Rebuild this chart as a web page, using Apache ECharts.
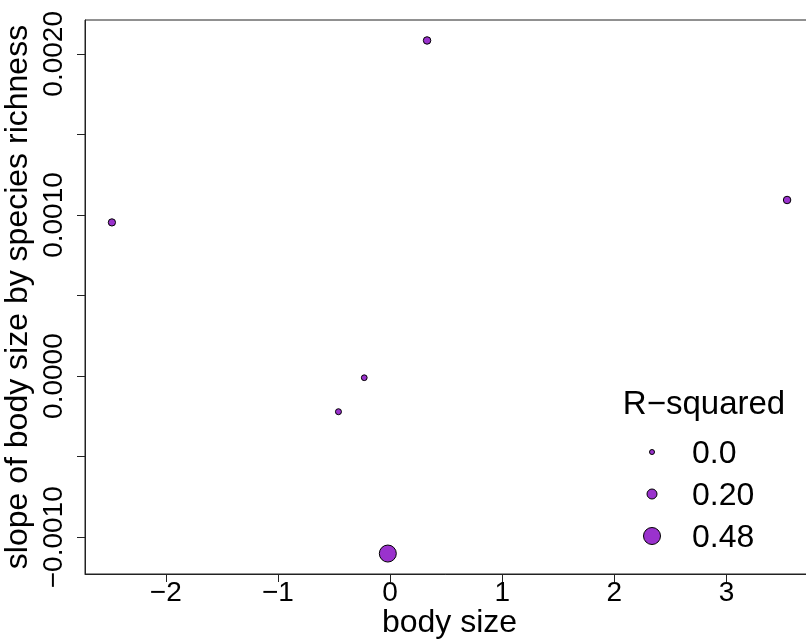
<!DOCTYPE html>
<html>
<head>
<meta charset="utf-8">
<script src="https://cdn.jsdelivr.net/npm/echarts@6/dist/echarts.min.js"></script>
<style>
  html, body { margin: 0; padding: 0; background: #fff; }
  #chart { width: 806px; height: 641px; }
</style>
</head>
<body>
<div id="chart"></div>
<script>
// Body size vs. slope of body size by species richness; point area scales with R-squared
const bodySize = [-2.48, 0.33, 3.54, -0.23, -0.46, -0.02];
const slope = [0.000954, 0.002083, 0.001093, -0.00001, -0.000221, -0.001101];
const rSquared = [0.09, 0.10, 0.10, 0.03, 0.04, 0.48];

const xTicks = [-2, -1, 0, 1, 2, 3];
const yTicks = [-0.001, -0.0005, 0, 0.0005, 0.001, 0.0015, 0.002];
const yLabels = [-0.001, 0, 0.001, 0.002];

const legendValues = [0.0, 0.20, 0.48];
const legendLabels = ['0.0', '0.20', '0.48'];

const FONT = '"Liberation Sans", Arial, Helvetica, sans-serif';
const FILL = '#9A32CD';
const INK = '#222';

function pointSize(r) { return 5 + 25 * r; }
function minusFmt(s) { return s.replace('-', '\u2212'); }

const chart = echarts.init(document.getElementById('chart'), null, { renderer: 'canvas' });

const legendX = 652;
const legendRowsY = [452, 494, 536];

const graphics = [
  {
    type: 'text', x: 704, y: 405,
    style: { text: 'R\u2212squared', fill: '#000', font: '33px ' + FONT, textAlign: 'center', textVerticalAlign: 'middle' }
  }
];
legendValues.forEach(function (v, i) {
  graphics.push({
    type: 'circle',
    shape: { cx: legendX, cy: legendRowsY[i], r: pointSize(v) / 2 },
    style: { fill: FILL, stroke: '#000', lineWidth: 1 }
  });
  graphics.push({
    type: 'text', x: 692, y: legendRowsY[i] + 2,
    style: { text: legendLabels[i], fill: '#000', font: '32px ' + FONT, textVerticalAlign: 'middle' }
  });
});

chart.setOption({
  animation: false,
  backgroundColor: '#fff',
  grid: {
    left: 85, top: 20, right: -8, bottom: 67,
    outerBoundsMode: 'none', containLabel: false,
    show: true, borderColor: INK, borderWidth: 1
  },
  xAxis: {
    type: 'value', min: -2.72, max: 3.78,
    splitLine: { show: false },
    axisLine: { onZero: false, lineStyle: { color: INK, width: 1 } },
    axisTick: { customValues: xTicks, length: 8, lineStyle: { color: INK } },
    axisLabel: {
      customValues: xTicks, color: '#000', fontSize: 28, fontFamily: FONT, margin: 5,
      formatter: function (v) { return minusFmt(String(v)); }
    },
    name: 'body size', nameLocation: 'middle', nameGap: 33, nameMoveOverlap: false,
    nameTextStyle: { color: '#000', fontSize: 32, fontFamily: FONT }
  },
  yAxis: {
    type: 'value', min: -0.001228, max: 0.00221,
    splitLine: { show: false },
    axisLine: { onZero: false, lineStyle: { color: INK, width: 1 } },
    axisTick: { customValues: yTicks, length: 8, lineStyle: { color: INK } },
    axisLabel: {
      customValues: yLabels, rotate: 90, color: '#000', fontSize: 28, fontFamily: FONT, margin: 17,
      formatter: function (v) { return minusFmt(v.toFixed(4)); }
    },
    name: 'slope of body size by species richness', nameLocation: 'middle', nameRotate: 90, nameGap: 51,
    nameMoveOverlap: false,
    nameTextStyle: { color: '#000', fontSize: 32, fontFamily: FONT }
  },
  series: [{
    type: 'scatter',
    data: bodySize.map(function (x, i) { return [x, slope[i], rSquared[i]]; }),
    symbol: 'circle',
    symbolSize: function (val) { return pointSize(val[2]); },
    itemStyle: { color: FILL, borderColor: '#000', borderWidth: 1, opacity: 1 },
    emphasis: { disabled: true }
  }],
  graphic: graphics
});
</script>
</body>
</html>
